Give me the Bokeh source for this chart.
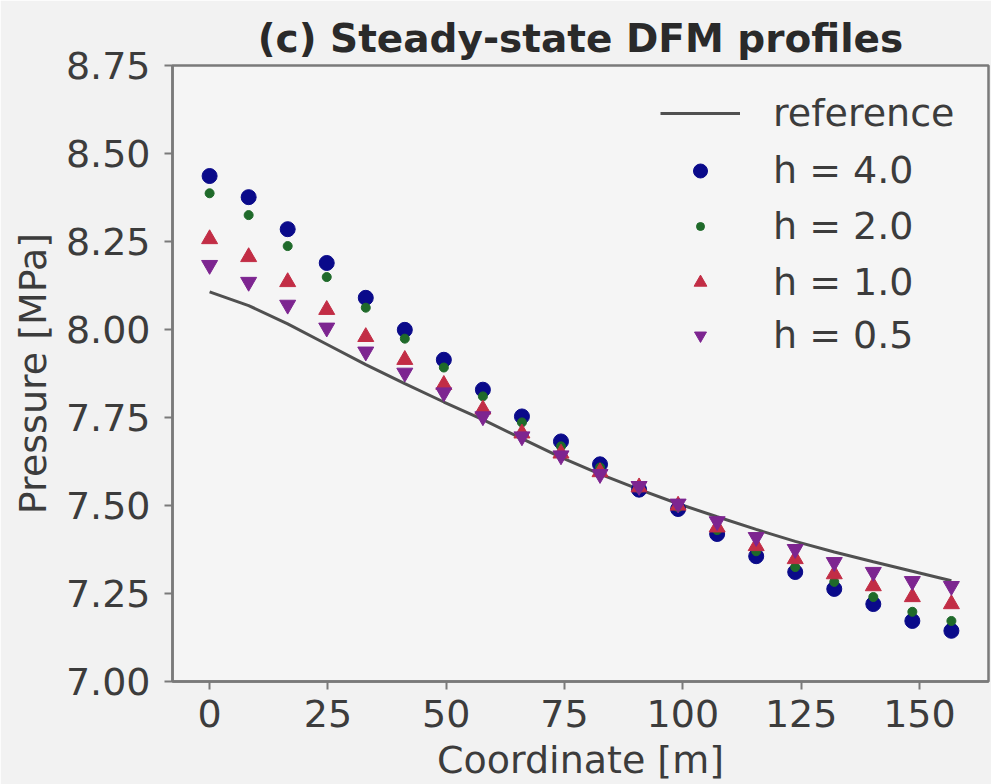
from bokeh.plotting import figure
from bokeh.models import FixedTicker, PrintfTickFormatter, Range1d, Legend, LegendItem
from bokeh.embed import file_html
from bokeh.resources import INLINE

coord = [0.0, 8.25, 16.5, 24.75, 33.0, 41.25, 49.5, 57.75, 66.0, 74.25,
         82.5, 90.75, 99.0, 107.25, 115.5, 123.75, 132.0, 140.25, 148.5, 156.75]

reference = [8.107, 8.068, 8.016, 7.958, 7.900, 7.846, 7.794, 7.744, 7.690, 7.637,
             7.589, 7.546, 7.505, 7.468, 7.432, 7.398, 7.368, 7.340, 7.313, 7.286]

h4 = [8.436, 8.376, 8.285, 8.189, 8.090, 7.999, 7.914, 7.829, 7.753, 7.682,
      7.617, 7.545, 7.490, 7.419, 7.356, 7.311, 7.263, 7.220, 7.172, 7.144]
h2 = [8.387, 8.325, 8.237, 8.149, 8.062, 7.974, 7.892, 7.810, 7.736, 7.668,
      7.608, 7.548, 7.495, 7.430, 7.370, 7.325, 7.283, 7.240, 7.198, 7.172]
h1 = [8.257, 8.206, 8.135, 8.056, 7.979, 7.914, 7.843, 7.773, 7.705, 7.648,
      7.595, 7.552, 7.500, 7.438, 7.385, 7.348, 7.305, 7.271, 7.240, 7.220]
h05 = [8.183, 8.135, 8.070, 8.005, 7.937, 7.877, 7.821, 7.753, 7.696, 7.642,
       7.589, 7.555, 7.505, 7.455, 7.410, 7.376, 7.339, 7.311, 7.285, 7.271]

x_ticks = [0, 25, 50, 75, 100, 125, 150]
y_ticks = [7.0, 7.25, 7.5, 7.75, 8.0, 8.25, 8.5, 8.75]

labels = ["reference", "h = 4.0", "h = 2.0", "h = 1.0", "h = 0.5"]

FONT = "DejaVu Sans"
TXT = "#3c3c3c"
SPINE = "#7a7a7a"
FS = "38px"

p = figure(width=991, height=784, output_backend="svg", toolbar_location=None,
           x_range=Range1d(-7.84, 164.59), y_range=Range1d(7.0, 8.75),
           min_border_left=172, min_border_right=3, min_border_bottom=101,
           min_border_top=65, title="(c) Steady-state DFM profiles")
p.border_fill_color = "#f2f2f2"
p.background_fill_color = "#f5f5f5"
p.outline_line_color = SPINE
p.outline_line_width = 2.5
p.xgrid.visible = False
p.ygrid.visible = False

p.title.text_font = FONT
p.title.text_font_size = "39px"
p.title.text_font_style = "bold"
p.title.text_color = "#2a2a2a"
p.title.align = "center"

for ax in (p.xaxis[0], p.yaxis[0]):
    ax.axis_line_color = SPINE
    ax.axis_line_width = 2.5
    ax.major_tick_line_color = SPINE
    ax.major_tick_line_width = 2
    ax.major_tick_out = 8
    ax.major_tick_in = 0
    ax.minor_tick_line_color = None
    ax.major_label_text_font = FONT
    ax.major_label_text_font_size = FS
    ax.major_label_text_color = TXT
    ax.axis_label_text_font = FONT
    ax.axis_label_text_font_size = FS
    ax.axis_label_text_color = TXT
    ax.axis_label_text_font_style = "normal"

p.xaxis.ticker = FixedTicker(ticks=x_ticks)
p.yaxis.ticker = FixedTicker(ticks=y_ticks)
p.yaxis.formatter = PrintfTickFormatter(format="%.2f")
p.xaxis.axis_label = "Coordinate [m]"
p.yaxis.axis_label = "Pressure [MPa]"
p.xaxis.major_label_standoff = 10
p.yaxis.major_label_standoff = 14
p.xaxis.axis_label_standoff = 8
p.yaxis.axis_label_standoff = 8

r_ref = p.line(coord, reference, line_color="#505050", line_width=3)
r4 = p.scatter(coord, h4, marker="circle", size=15, fill_color="#0a0a8a", line_color="#0a0a8a")
r2 = p.scatter(coord, h2, marker="circle", size=9, fill_color="#1f6a2a", line_color="#1f6a2a")
r1 = p.scatter(coord, h1, marker="triangle", size=16, fill_color="#c22d45", line_color="#c22d45")
r05 = p.scatter(coord, h05, marker="inverted_triangle", size=16, fill_color="#7d2590", line_color="#7d2590")

# one small legend per entry so that each marker keeps its own size
renderers = [r_ref, r4, r2, r1, r05]
glyph_heights = [40, 35, 20, 32, 30]
row_centers = [115, 172, 228, 284, 337]   # screen y of each legend row
frame_bottom = 683
for lab, rend, gh, yc in zip(labels, renderers, glyph_heights, row_centers):
    row_h = 44
    lg = Legend(items=[LegendItem(label=lab, renderers=[rend])],
                location=(488, frame_bottom - yc - row_h / 2))
    lg.label_text_font = FONT
    lg.label_text_font_size = FS
    lg.label_text_color = TXT
    lg.glyph_width = 80
    lg.glyph_height = gh
    lg.label_height = row_h
    lg.label_standoff = 33
    lg.padding = 0
    lg.margin = 0
    lg.border_line_color = None
    lg.background_fill_alpha = 0
    p.add_layout(lg)

open("out.html", "w").write(file_html(p, INLINE))
